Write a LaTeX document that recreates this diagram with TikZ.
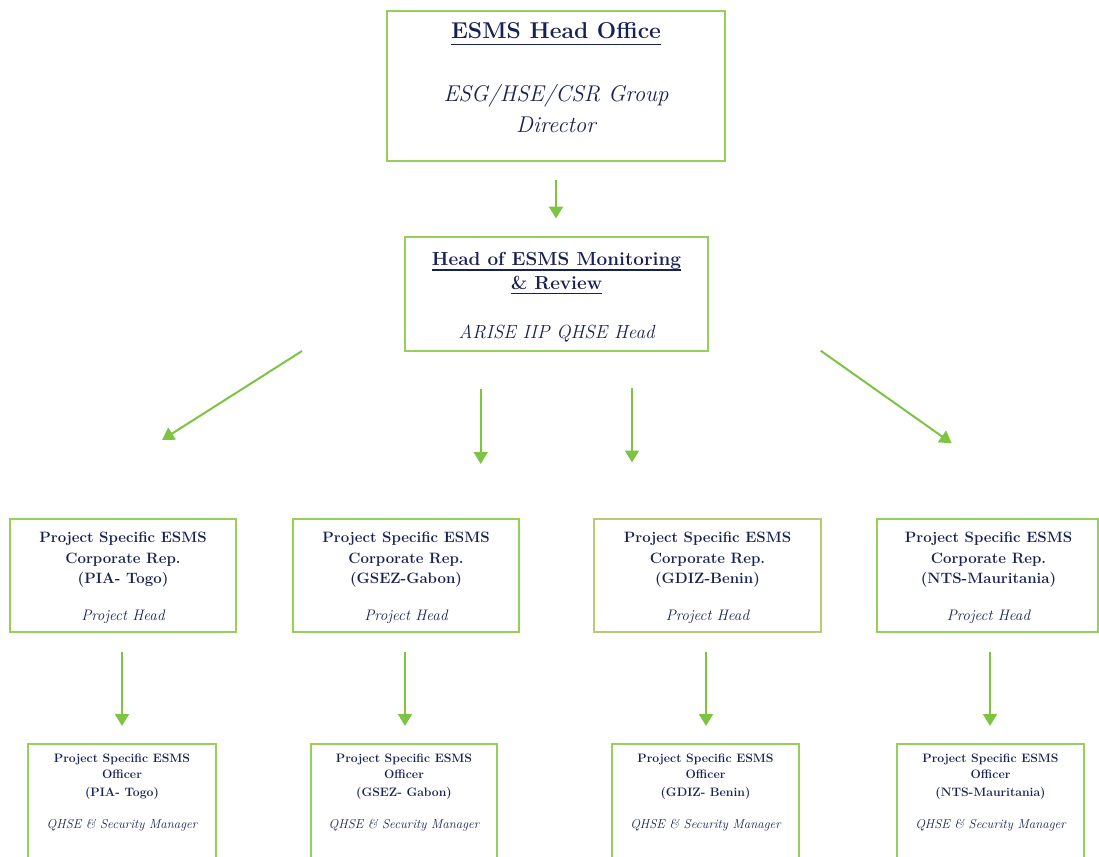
\documentclass[tikz,border=0pt]{standalone}
\usetikzlibrary{arrows.meta}
\definecolor{navy}{RGB}{24,33,84}
\definecolor{bgreen}{RGB}{150,208,90}
\definecolor{agreen}{RGB}{125,196,66}
\definecolor{ogreen}{RGB}{190,200,115}
\newcommand{\fsz}[1]{\fontsize{#1}{#1}\selectfont}
\begin{document}
\begin{tikzpicture}[x=1pt,y=-1pt,
  box/.style={draw=bgreen,line width=2pt,inner sep=0pt},
  tb/.style={text=navy,inner sep=0pt,anchor=base,font=\bfseries\fsz{#1}},
  ti/.style={text=navy,inner sep=0pt,anchor=base,font=\itshape\fsz{#1}},
  ulin/.style={draw=navy,line width=1.6pt},
  arr/.style={draw=agreen,line width=2pt,-{Triangle[width=14pt,length=12pt]}}]
\useasboundingbox (0,0) rectangle (1099,856);

% ---- top box
\node[box,minimum width=338pt,minimum height=150pt] (ho) at (556,86) {};
\node[tb=22.9] (ho1) at (556,38.5) {ESMS Head Office};
\draw[ulin] ([yshift=-6pt]ho1.base west) -- ([yshift=-6pt]ho1.base east);
\node[ti=22.8] (ho2) at (556,102) {ESG/HSE/CSR Group};
\node[ti=22.8] (ho3) at (556,132) {Director};

% ---- monitoring box
\node[box,minimum width=303pt,minimum height=114pt] (mr) at (556.5,294) {};
\node[tb=18.9] (mr1) at (556.5,265.5) {Head of ESMS Monitoring};
\draw[ulin] ([yshift=-4.5pt]mr1.base west) -- ([yshift=-4.5pt]mr1.base east);
\node[tb=18.9] (mr2) at (556.5,289) {\&~Review};
\draw[ulin] ([yshift=-4.5pt]mr2.base west) -- ([yshift=-4.5pt]mr2.base east);
\node[ti=19] (mr3) at (556.5,338) {ARISE IIP QHSE Head};

% ---- row 3 boxes
\node[box,minimum width=226pt,minimum height=113pt] (ra) at (123,575.5) {};
\node[box,minimum width=226pt,minimum height=113pt] (rb) at (406,575.5) {};
\node[box,draw=ogreen,minimum width=227pt,minimum height=113pt] (rc) at (707.5,575.5) {};
\node[box,minimum width=221pt,minimum height=113pt] (rd) at (987.5,575.5) {};

\foreach \n/\cx/\loc in {ra/123/{(PIA- Togo)},rb/406/{(GSEZ-Gabon)},rc/707.5/{(GDIZ-Benin)},rd/988.5/{(NTS-Mauritania)}}{
  \node[tb=15] (\n1) at (\cx,542) {Project Specific ESMS};
  \node[tb=15] (\n2) at (\cx,563) {Corporate Rep.};
  \node[tb=15] (\n3) at (\cx,583) {\loc};
  \node[ti=15.2] (\n4) at (\cx,620.5) {Project Head};
}

% ---- row 4 boxes
\node[box,minimum width=188pt,minimum height=136pt] (oa) at (122,812) {};
\node[box,minimum width=186pt,minimum height=136pt] (ob) at (404,812) {};
\node[box,minimum width=187pt,minimum height=136pt] (oc) at (705.5,812) {};
\node[box,minimum width=187pt,minimum height=136pt] (od) at (990.5,812) {};

\foreach \n/\cx/\loc in {oa/122/{(PIA- Togo)},ob/404/{(GSEZ- Gabon)},oc/705.5/{(GDIZ- Benin)},od/990.5/{(NTS-Mauritania)}}{
  \node[tb=12.2] (\n1) at (\cx,762) {Project Specific ESMS};
  \node[tb=12.2] (\n2) at (\cx,778.5) {Officer};
  \node[tb=12.2] (\n3) at (\cx,796) {\loc};
  \node[ti=12.9] (\n4) at (\cx,828) {QHSE \& Security Manager};
}

% ---- arrow end points
\coordinate (a0s) at (556,180);   \coordinate (a0e) at (556,218.5);
\coordinate (a1s) at (302,351);   \coordinate (a1e) at (162,440);
\coordinate (a2s) at (480.7,389); \coordinate (a2e) at (480.7,464);
\coordinate (a3s) at (632,388);   \coordinate (a3e) at (632,462.5);
\coordinate (a4s) at (820.7,350.7); \coordinate (a4e) at (951.7,443.3);
\coordinate (b1s) at (122,652);   \coordinate (b1e) at (122,726);
\coordinate (b2s) at (405,652);   \coordinate (b2e) at (405,726);
\coordinate (b3s) at (706,652);   \coordinate (b3e) at (706,726);
\coordinate (b4s) at (990,652);   \coordinate (b4e) at (990,726);

\foreach \s/\e in {a0s/a0e,a1s/a1e,a2s/a2e,a3s/a3e,a4s/a4e,b1s/b1e,b2s/b2e,b3s/b3e,b4s/b4e}
  \draw[arr] (\s) -- (\e);
\end{tikzpicture}
\end{document}
